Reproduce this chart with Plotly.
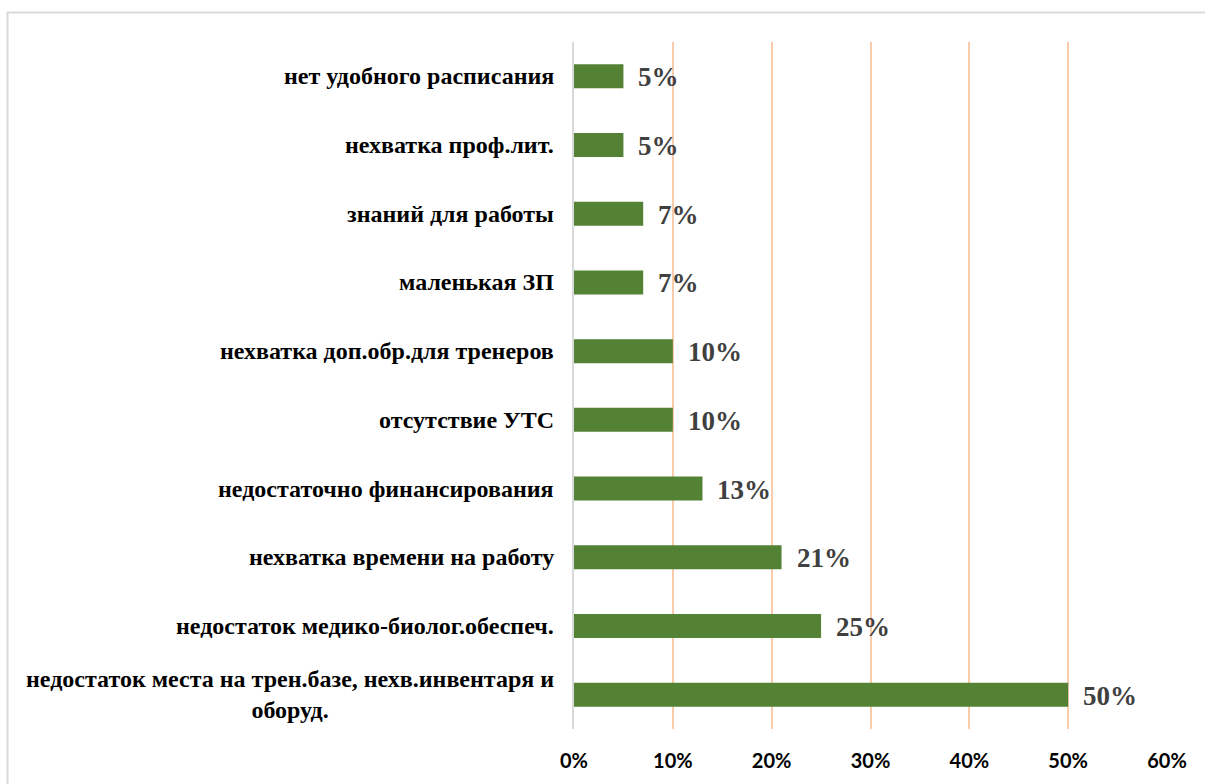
import plotly.graph_objects as go

# Survey: obstacles named by respondents (share of answers)
categories = [
    "недостаток места на трен.базе, нехв.инвентаря и<br>оборуд.",
    "недостаток медико-биолог.обеспеч.",
    "нехватка времени на работу",
    "недостаточно финансирования",
    "отсутствие УТС",
    "нехватка доп.обр.для тренеров",
    "маленькая ЗП",
    "знаний для работы",
    "нехватка проф.лит.",
    "нет удобного расписания",
]
values = [50, 25, 21, 13, 10, 10, 7, 7, 5, 5]
value_labels = [f"{v}%" for v in values]
x_ticks = [0, 10, 20, 30, 40, 50, 60]
x_tick_labels = [f"{t}%" for t in x_ticks]

W, H = 1205, 784
L, R, T, B = 574, 38, 42, 53
pw, ph = W - L - R, H - T - B

fig = go.Figure(
    go.Bar(
        y=categories,
        x=values,
        orientation="h",
        marker=dict(color="#548235", line=dict(width=0)),
        hoverinfo="x+y",
    )
)

# value labels placed just past the end of each bar
for cat, v, lab in zip(categories, values, value_labels):
    fig.add_annotation(
        x=v, xref="x", xanchor="left", xshift=13,
        y=cat, yref="y", yanchor="middle", yshift=-1,
        text=f"<b>{lab}</b>", showarrow=False,
        font=dict(family="Liberation Serif", size=27, color="#404040"),
    )

# category labels drawn as centred, right-anchored annotations
for cat in categories:
    fig.add_annotation(
        x=-18 / pw, xref="paper", xanchor="right",
        y=cat, yref="y", yanchor="middle",
        text=f"<b>{cat}</b>", showarrow=False, align="center",
        font=dict(family="Liberation Serif", size=24, color="#000000"),
    )

# chart frame
fig.add_shape(
    type="rect", xref="paper", yref="paper",
    x0=(7.5 - L) / pw, x1=(W + 20 - L) / pw,
    y0=-(B + 20) / ph, y1=(H - B - 12.5) / ph,
    line=dict(color="#d9d9d9", width=2), fillcolor="rgba(0,0,0,0)", layer="below",
)

fig.update_layout(
    width=W, height=H,
    margin=dict(l=L, r=R, t=T, b=B),
    paper_bgcolor="white", plot_bgcolor="white",
    bargap=0.65,
    showlegend=False,
    xaxis=dict(
        range=[0, 60],
        tickvals=x_ticks, ticktext=[f"<b>{t}</b>" for t in x_tick_labels],
        tickfont=dict(family="Lato", size=20, color="#000000"),
        showgrid=True, gridcolor="#F8CBAD", gridwidth=2,
        zeroline=False, showline=False,
        ticklabelstandoff=18,
    ),
    yaxis=dict(
        categoryorder="array", categoryarray=categories,
        showticklabels=False, showgrid=False, zeroline=False,
        showline=True, linecolor="#d9d9d9", linewidth=2,
    ),
)

fig.write_html("out.html")
